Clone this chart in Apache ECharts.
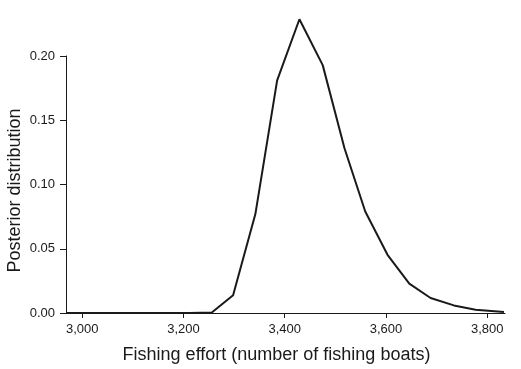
<!DOCTYPE html>
<html lang="en" style="height: 100%">
<head>
<meta charset="utf-8">
<title>Posterior distribution of fishing effort</title>
</head>
<body style="height: 100%; margin: 0; background: #fff">
<div id="container" style="height: 100%"></div>
<script type="text/javascript" src="https://cdn.jsdelivr.net/npm/echarts@6/dist/echarts.min.js"></script>
<script type="text/javascript">
var effort = [2968, 3012, 3056, 3099, 3143, 3186, 3212, 3256, 3298, 3342, 3385, 3429, 3475, 3518, 3559, 3603, 3646, 3688, 3734, 3777, 3833];
var posterior = [0, 0, 0, 0, 0, 0, 0, 0.0004, 0.0138, 0.077, 0.181, 0.2286, 0.1929, 0.1282, 0.079, 0.0453, 0.0228, 0.0117, 0.0059, 0.0026, 0.0008];
var xTicks = [3000, 3200, 3400, 3600, 3800];

var dom = document.getElementById('container');
var myChart = echarts.init(dom);
var font = '"Liberation Sans Narrow", "Arial Narrow", "Liberation Sans", sans-serif';

var option = {
    animation: false,
    grid: {left: 66, right: 16, top: 56, bottom: 56, containLabel: false, outerBoundsMode: 'none'},
    xAxis: {
        type: 'value',
        min: 2968,
        max: 3835,
        name: 'Fishing effort (number of fishing boats)',
        nameLocation: 'middle',
        nameGap: 33,
        nameMoveOverlap: false,
        nameTextStyle: {fontFamily: font, fontSize: 18, color: '#1a1a1a', padding: [0, 18, 0, 0]},
        axisLine: {show: true, lineStyle: {color: '#1a1a1a', width: 1}},
        axisTick: {show: true, length: 5, customValues: xTicks, lineStyle: {color: '#1a1a1a'}},
        axisLabel: {
            customValues: xTicks,
            fontFamily: font, fontSize: 13, color: '#1a1a1a', margin: 10,
            formatter: function (v) { return String(v).replace(/\B(?=(\d{3})+(?!\d))/g, ','); }
        },
        splitLine: {show: false}
    },
    yAxis: {
        type: 'value',
        min: 0,
        max: 0.2,
        interval: 0.05,
        name: 'Posterior distribution',
        nameLocation: 'middle',
        nameGap: 42,
        nameMoveOverlap: false,
        nameTextStyle: {fontFamily: font, fontSize: 18, color: '#1a1a1a', padding: [0, 12, 0, 0]},
        axisLine: {show: true, lineStyle: {color: '#1a1a1a', width: 1}},
        axisTick: {show: true, length: 6, lineStyle: {color: '#1a1a1a'}},
        axisLabel: {
            fontFamily: font, fontSize: 13, color: '#1a1a1a', margin: 11,
            formatter: function (v) { return v.toFixed(2); }
        },
        splitLine: {show: false}
    },
    series: [{
        type: 'line',
        data: effort.map(function (x, i) { return [x, posterior[i]]; }),
        showSymbol: false,
        clip: false,
        lineStyle: {color: '#1a1a1a', width: 2}
    }]
};

myChart.setOption(option);
window.addEventListener('resize', myChart.resize);
</script>
</body>
</html>
